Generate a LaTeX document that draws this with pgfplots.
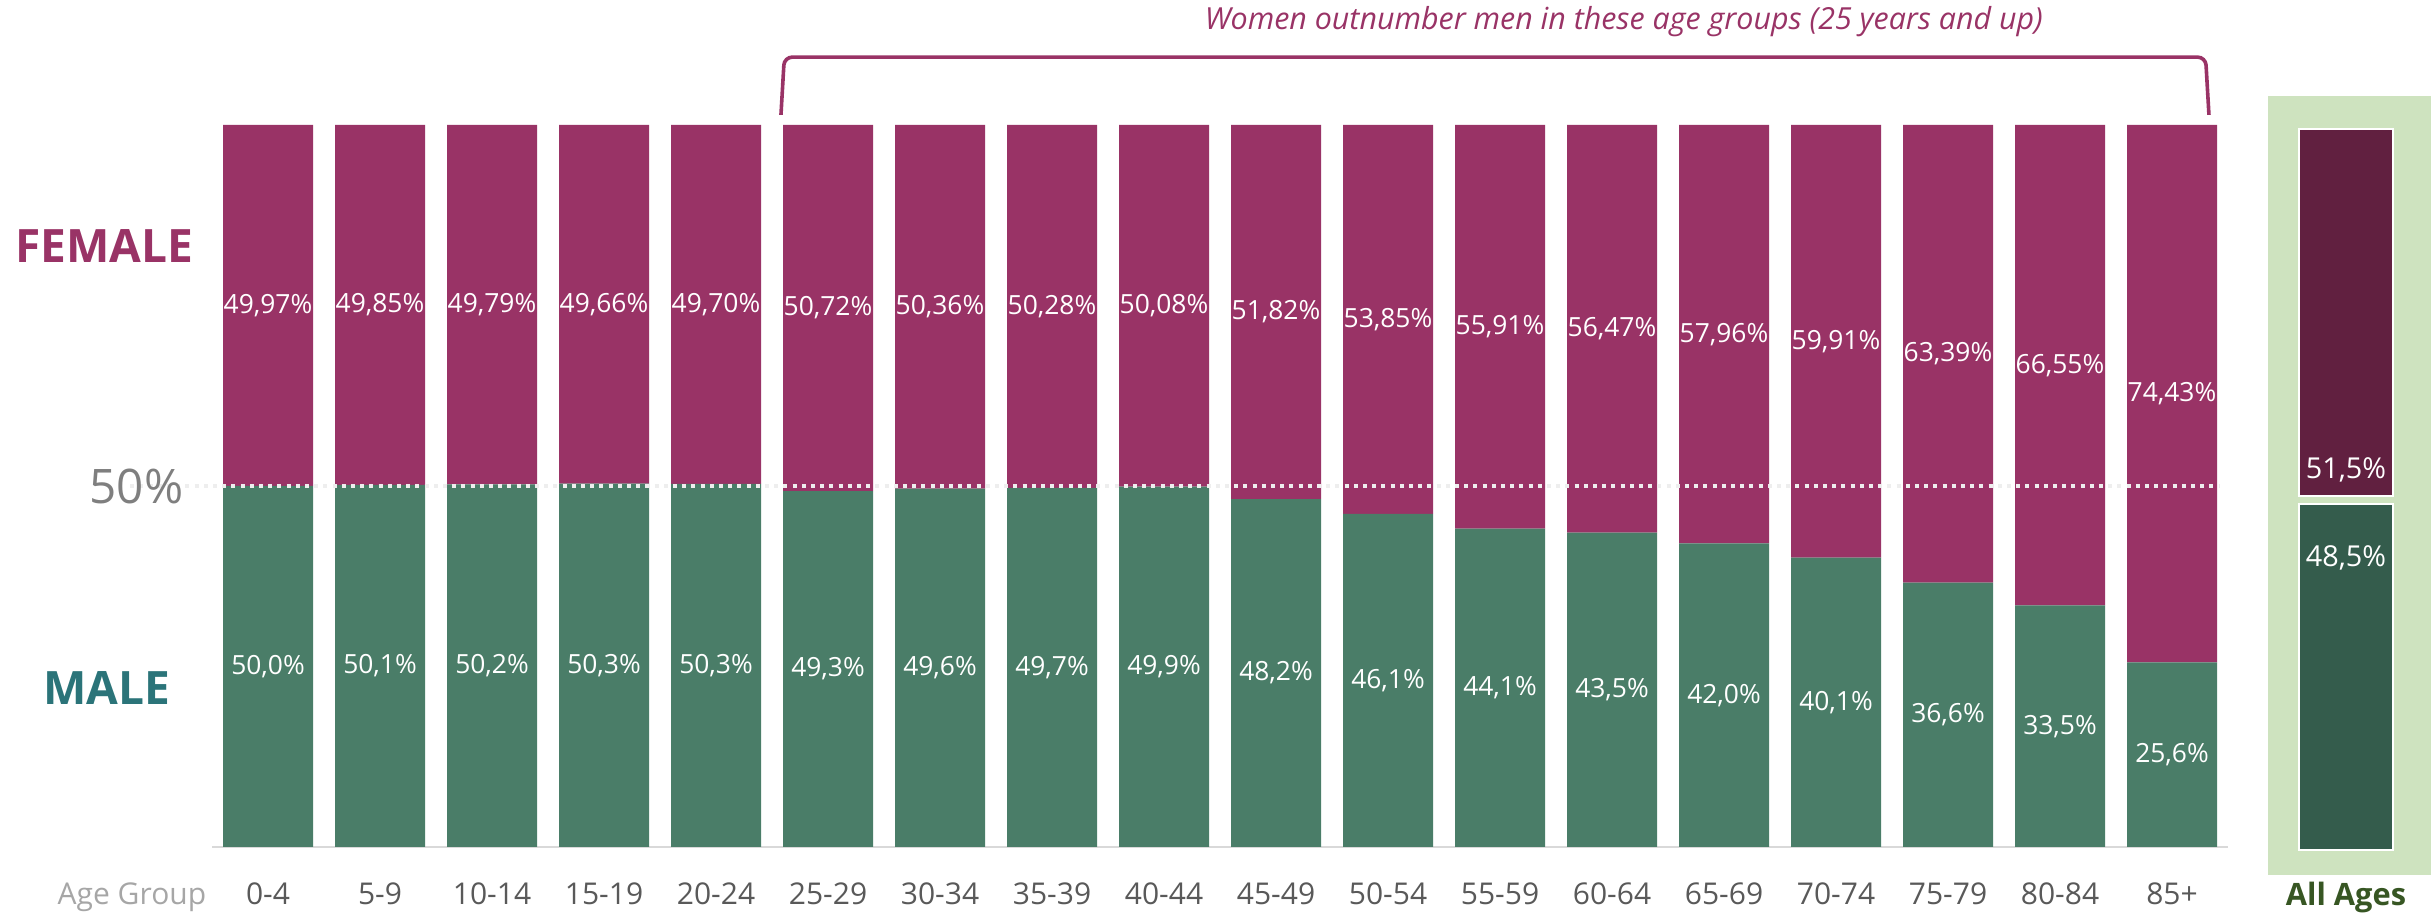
\documentclass[border=0pt]{standalone}
\usepackage{pgfplots}
\pgfplotsset{compat=1.18}
\usepackage{pgfplotstable}
\usepackage{fontspec}
\setmainfont{Open Sans}
\definecolor{fem}{HTML}{993366}
\definecolor{mal}{HTML}{4A7D68}
\definecolor{femdark}{HTML}{612040}
\definecolor{maldark}{HTML}{345C4C}
\definecolor{panelgreen}{HTML}{CEE3BF}
\definecolor{allages}{HTML}{375623}
\definecolor{maletext}{HTML}{2B7479}
\definecolor{ticktext}{HTML}{595959}
\definecolor{agegroup}{HTML}{A6A6A6}
\definecolor{fiftytext}{HTML}{7F7F7F}
\definecolor{dotcol}{HTML}{EEEEEE}
\definecolor{axisline}{HTML}{D9D9D9}
\newcommand\fs[1]{\fontsize{#1}{#1}\selectfont}

\pgfplotstableread{
x male female mlab flab
0 50.03 49.97 50,0 49,97
1 50.15 49.85 50,1 49,85
2 50.21 49.79 50,2 49,79
3 50.34 49.66 50,3 49,66
4 50.30 49.70 50,3 49,70
5 49.28 50.72 49,3 50,72
6 49.64 50.36 49,6 50,36
7 49.72 50.28 49,7 50,28
8 49.92 50.08 49,9 50,08
9 48.18 51.82 48,2 51,82
10 46.15 53.85 46,1 53,85
11 44.09 55.91 44,1 55,91
12 43.53 56.47 43,5 56,47
13 42.04 57.96 42,0 57,96
14 40.09 59.91 40,1 59,91
15 36.61 63.39 36,6 63,39
16 33.45 66.55 33,5 66,55
17 25.57 74.43 25,6 74,43
}\agedata

\pgfplotstableread{
x male female
78 48.5 51.5
}\alldata

\pgfplotsset{
  barlabel/.style={only marks, mark=*, mark size=0.1pt, mark options={opacity=0},
    point meta=explicit symbolic, nodes near coords={\pgfplotspointmeta\%},
    nodes near coords align={center},
    every node near coord/.append style={font=\fs{6.6pt}, text=white, anchor=center, opacity=1}},
}

\begin{document}
\begin{tikzpicture}
\path[use as bounding box] (0,0) rectangle (608.75pt,229pt);

% main bars
\begin{axis}[
  at={(53pt,17.25pt)}, anchor=south west,
  width=504pt, height=180.5pt, scale only axis,
  xmin=-0.5, xmax=17.5, ymin=0, ymax=100,
  enlargelimits=false,
  ybar stacked, bar width=22.5pt,
  axis x line=bottom, axis y line=none,
  x axis line style={-, draw=axisline, line width=0.6pt},
  xtick={0,...,17},
  xticklabels={0-4,5-9,10-14,15-19,20-24,25-29,30-34,35-39,40-44,45-49,50-54,55-59,60-64,65-69,70-74,75-79,80-84,85+},
  major tick length=0pt,
  xtick style={draw=none},
  xticklabel style={anchor=base, yshift=-14.5pt, font=\fs{7.5pt}, text=ticktext},
  clip=false,
]
\addplot[fill=mal, draw=none] table[x=x, y=male] {\agedata};
\addplot[fill=fem, draw=none] table[x=x, y=female] {\agedata};
\end{axis}

% overlay: labels, reference line, annotations
\begin{axis}[
  at={(53pt,17.25pt)}, anchor=south west,
  width=504pt, height=180.5pt, scale only axis,
  xmin=-0.5, xmax=17.5, ymin=0, ymax=100,
  enlargelimits=false, hide axis, clip=false,
]
\addplot[dotcol, line width=1pt, dash pattern=on 1pt off 1.3pt] coordinates {(-1.23,50) (17.42,50)};
\addplot[barlabel] table[x=x, y expr=\thisrow{male}/2, meta=mlab] {\agedata};
\addplot[barlabel] table[x=x, y expr=\thisrow{male}+\thisrow{female}/2, meta=flab] {\agedata};

\node[anchor=east, font=\fs{11.9pt}, text=fiftytext, inner sep=0pt] at (axis cs:-0.75,50) {50\%};
\node[anchor=center, font=\bfseries\fs{11.5pt}, text=fem, inner sep=0pt] at (axis cs:-1.464,83.2) {FEMALE};
\node[anchor=center, font=\bfseries\fs{11.5pt}, text=maletext, inner sep=0pt] at (axis cs:-1.44,22.0) {MALE};
\node[anchor=base east, font=\fs{7.5pt}, text=agegroup, inner sep=0pt] at (axis cs:-0.545,-8.03) {Age Group};

\draw[fem, line width=0.9pt, rounded corners=2pt]
  (axis cs:4.58,101.4) -- (axis cs:4.61,109.4) -- (axis cs:17.30,109.4) -- (axis cs:17.33,101.4);
\node[anchor=base west, font=\itshape\fs{7.6pt}, text=fem, inner sep=0pt] at (axis cs:8.357,113.2)
  {Women outnumber men in these age groups (25 years and up)};
\end{axis}

% All Ages panel
\fill[panelgreen] (567pt,10.25pt) rectangle (607.75pt,205pt);
\begin{axis}[
  at={(567pt,10.25pt)}, anchor=south west,
  width=40.75pt, height=194.75pt, scale only axis,
  xmin=0, xmax=163, ymin=-3.506, ymax=105.75,
  enlargelimits=false, hide axis, clip=false,
  ybar stacked, bar width=23.5pt,
]
\addplot[fill=maldark, draw=white, line width=0.6pt] table[x=x, y=male] {\alldata};
\addplot[fill=femdark, draw=white, line width=0.6pt, yshift=2pt] table[x=x, y=female] {\alldata};
\end{axis}
\begin{axis}[
  at={(567pt,10.25pt)}, anchor=south west,
  width=40.75pt, height=194.75pt, scale only axis,
  xmin=0, xmax=163, ymin=-3.506, ymax=105.75,
  enlargelimits=false, hide axis, clip=false,
]
\node[font=\fs{7.2pt}, text=white, inner sep=0pt] at (axis cs:78,53.3) {51,5\%};
\node[font=\fs{7.2pt}, text=white, inner sep=0pt] at (axis cs:78,41.0) {48,5\%};
\node[font=\bfseries\fs{7.7pt}, text=allages, inner sep=0pt] at (axis cs:78,-6.7) {All Ages};
\end{axis}
\end{tikzpicture}
\end{document}
